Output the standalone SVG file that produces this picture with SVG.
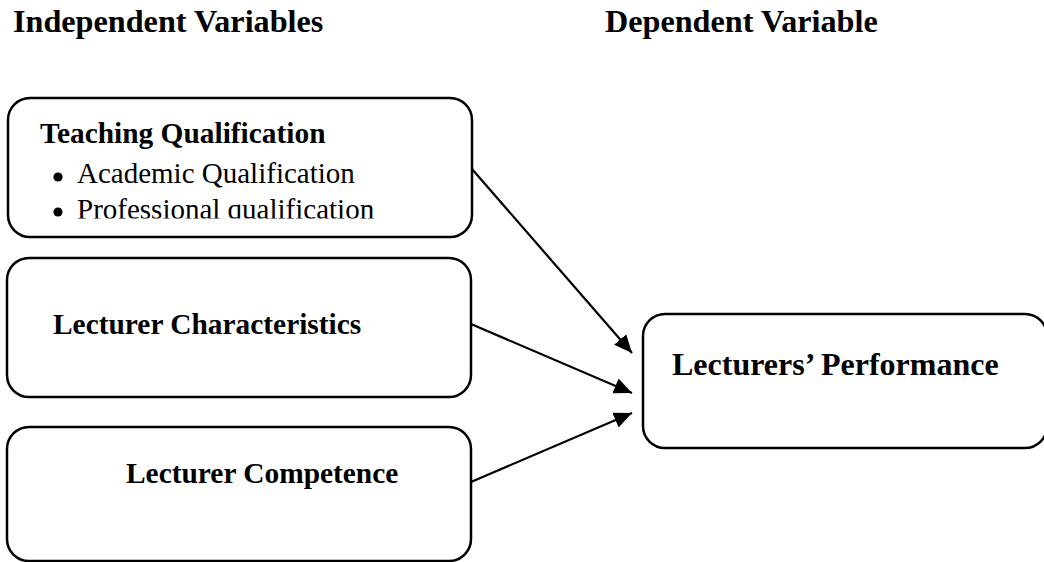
<svg xmlns="http://www.w3.org/2000/svg" width="1044" height="562" viewBox="0 0 1044 562">
<style>
.box{fill:#fff;stroke:#000;stroke-width:2.5}
.hdr{font-family:"Liberation Serif","Times New Roman",serif;font-weight:bold;font-size:32.2px;fill:#000}
.ttl{font-family:"Liberation Serif","Times New Roman",serif;font-weight:bold;font-size:29.4px;fill:#000}
.big{font-size:32px}
.itm{font-family:"Liberation Serif","Times New Roman",serif;font-size:29px;fill:#000}
.con{stroke:#000;stroke-width:2.2;fill:none;marker-end:url(#ah)}
</style>
<defs>
<marker id="ah" markerWidth="18" markerHeight="16" refX="18" refY="8" orient="auto" markerUnits="userSpaceOnUse">
<path d="M0,0 L18,8 L0,16 Z" fill="#000"/>
</marker>
<clipPath id="clip1"><rect x="0" y="0" width="480" height="218.5"/></clipPath>
</defs>
<rect width="1044" height="562" fill="#fff"/>
<g id="headers">
<text class="hdr" x="13" y="32">Independent Variables</text>
<text class="hdr" x="605" y="32">Dependent Variable</text>
</g>
<g id="node-teaching">
<rect class="box" x="8" y="98" width="464" height="139" rx="22"/>
<text class="ttl" x="40" y="143">Teaching Qualification</text>
<circle cx="58" cy="177" r="4.6"/>
<text class="itm" x="77" y="183">Academic Qualification</text>
<g clip-path="url(#clip1)">
<circle cx="58" cy="212" r="4.6"/>
<text class="itm" x="77" y="219">Professional qualification</text>
</g>
</g>
<g id="node-characteristics">
<rect class="box" x="7" y="258" width="464" height="139" rx="22"/>
<text class="ttl" x="53" y="334">Lecturer Characteristics</text>
</g>
<g id="node-competence">
<rect class="box" x="7" y="427" width="464" height="134" rx="22"/>
<text class="ttl" x="126" y="483">Lecturer Competence</text>
</g>
<g id="node-performance">
<rect class="box" x="643" y="314" width="404" height="134" rx="22"/>
<text class="ttl big" x="672" y="375">Lecturers’ Performance</text>
</g>
<g id="connectors">
<line class="con" x1="472" y1="169" x2="632" y2="353"/>
<line class="con" x1="471" y1="324" x2="632" y2="393"/>
<line class="con" x1="471" y1="482" x2="632" y2="413"/>
</g>
</svg>
